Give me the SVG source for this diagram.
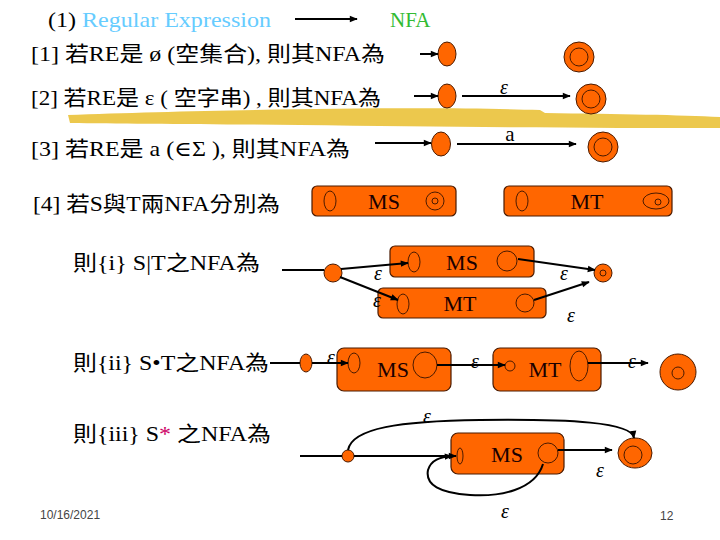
<svg xmlns="http://www.w3.org/2000/svg" width="720" height="540" viewBox="0 0 720 540">
<defs>
<marker id="ah" viewBox="0 0 10 10" refX="9" refY="5" markerWidth="9" markerHeight="8" markerUnits="userSpaceOnUse" orient="auto"><path d="M0,1 L10,5 L0,9 z" fill="#000"/></marker>
</defs>
<style>
.t{font-family:'Times New Roman','Liberation Serif',Times,'DejaVu Serif',serif,'Noto Sans CJK TC';font-size:21px;fill:#000}
.st{fill:#FF6600;stroke:#4a1a00;stroke-width:1}
.in{fill:none;stroke:#4a1a00;stroke-width:1}
.box{fill:#FF6600;stroke:#4a1a00;stroke-width:1.2}
.bt{font-family:'Times New Roman','Liberation Serif',Times,serif;font-size:22px;fill:#1a0000;text-anchor:middle}
.e{font-family:'Times New Roman','Liberation Serif',Times,serif;font-style:italic;font-size:20px;text-anchor:middle;fill:#000}
.c{fill:none;stroke:#000;stroke-width:2}
.a{marker-end:url(#ah)}
.f{font-family:'Liberation Sans',Arial,sans-serif;font-size:12px;fill:#444}
</style>
<rect width="720" height="540" fill="#fff"/>
<path d="M68,115 C200,110 420,106 540,110 L545,113 C620,114 680,115 720,117 L720,128 C600,128 450,127 300,125 C200,124 120,124 70,123 Z" fill="#E9BE2E" opacity="0.85"/>

<g id="texts">
<text x="48" y="27" class="t" textLength="223" lengthAdjust="spacingAndGlyphs">(1) <tspan fill="#66CCFF">Regular Expression</tspan></text>
<text x="390" y="27" class="t" fill="#33BB33" style="fill:#33BB33">NFA</text>
<text x="31" y="61" class="t" textLength="354" lengthAdjust="spacingAndGlyphs">[1] 若RE是 ø (空集合), 則其NFA為</text>
<text x="31" y="105" class="t" textLength="350" lengthAdjust="spacingAndGlyphs">[2] 若RE是 ε ( 空字串) , 則其NFA為</text>
<text x="31" y="156" class="t" textLength="319" lengthAdjust="spacingAndGlyphs">[3] 若RE是 a (∈Σ ), 則其NFA為</text>
<text x="33" y="211" class="t" textLength="247" lengthAdjust="spacingAndGlyphs">[4] 若S與T兩NFA分別為</text>
<text x="73" y="270" class="t" textLength="187" lengthAdjust="spacingAndGlyphs">則{i} S|T之NFA為</text>
<text x="73" y="370" class="t" textLength="196" lengthAdjust="spacingAndGlyphs">則{ii} S•T之NFA為</text>
<text x="73" y="441" class="t" textLength="198" lengthAdjust="spacingAndGlyphs">則{iii} S<tspan fill="#CC0066" style="fill:#CC0066">*</tspan> 之NFA為</text>
<text x="40" y="519" class="f">10/16/2021</text>
<text x="660" y="520" class="f">12</text>
</g>

<g id="row1">
<ellipse cx="447" cy="54" rx="9" ry="12" class="st"/>
<circle cx="579" cy="57" r="15" class="st"/><circle cx="579" cy="57" r="9" class="in"/>
</g>
<g id="row2">
<ellipse cx="447" cy="96" rx="9" ry="12" class="st"/>
<circle cx="591" cy="99" r="15" class="st"/><circle cx="591" cy="99" r="9" class="in"/>
</g>
<g id="row3">
<ellipse cx="441" cy="144" rx="9.5" ry="12" class="st"/>
<circle cx="603" cy="147" r="15" class="st"/><circle cx="603" cy="147" r="9" class="in"/>
</g>

<g id="MS4">
<rect x="312" y="186" width="144" height="30" rx="5" class="box"/>
<ellipse cx="330" cy="201" rx="6" ry="10" class="in"/>
<text x="384" y="209" class="bt">MS</text>
<circle cx="435" cy="201" r="9" class="in"/><circle cx="435" cy="201" r="3" class="in"/>
</g>
<g id="MT4">
<rect x="504" y="186" width="168" height="30" rx="5" class="box"/>
<ellipse cx="522" cy="201" rx="6" ry="10" class="in"/>
<text x="587" y="209" class="bt">MT</text>
<ellipse cx="656" cy="201" rx="13" ry="8" class="in"/><circle cx="658" cy="202" r="3" class="in"/>
</g>

<g id="union">
<circle cx="333" cy="273" r="9" class="st"/>
<rect x="390" y="246" width="144" height="31" rx="5" class="box"/>
<ellipse cx="414" cy="262" rx="6" ry="10" class="in"/>
<text x="462" y="270" class="bt">MS</text>
<circle cx="507" cy="261" r="10" class="in"/>
<rect x="378" y="288" width="168" height="30" rx="5" class="box"/>
<ellipse cx="403" cy="304" rx="6" ry="10" class="in"/>
<text x="460" y="311" class="bt">MT</text>
<circle cx="525" cy="303" r="9" class="in"/>
<circle cx="603" cy="273" r="9" class="st"/><circle cx="603" cy="273" r="3" class="in"/>
</g>

<g id="concat">
<ellipse cx="306" cy="363" rx="6" ry="9" class="st"/>
<rect x="337" y="348" width="114" height="43" rx="7" class="box"/>
<ellipse cx="354" cy="363" rx="6" ry="10" class="in"/>
<text x="393" y="377" class="bt">MS</text>
<ellipse cx="425" cy="365" rx="12" ry="13" class="in"/>
<rect x="493" y="348" width="108" height="43" rx="7" class="box"/>
<circle cx="510" cy="366" r="5" class="in"/>
<text x="545" y="377" class="bt">MT</text>
<ellipse cx="579" cy="366" rx="9" ry="15" class="in"/>
<circle cx="678" cy="372" r="18" class="st"/><circle cx="678" cy="373" r="6" class="in"/>
</g>

<g id="star">
<circle cx="348" cy="456" r="6" class="st"/>
<rect x="451" y="433" width="113" height="41" rx="7" class="box"/>
<ellipse cx="460" cy="456" rx="3" ry="8" class="in"/>
<text x="507" y="462" class="bt">MS</text>
<circle cx="548" cy="453" r="10" class="in"/>
<ellipse cx="635" cy="453" rx="17" ry="15" class="st"/><circle cx="633" cy="455" r="9" class="in"/>
</g>

<g id="connectors">
<line x1="295" y1="19" x2="357" y2="19" class="c a"/>
<line x1="420" y1="54" x2="438" y2="54" class="c a"/>
<line x1="414" y1="96" x2="438" y2="96" class="c a"/>
<line x1="462" y1="96" x2="570" y2="96" class="c a"/>
<line x1="375" y1="143" x2="431" y2="143" class="c a"/>
<line x1="457" y1="144" x2="576" y2="144" class="c a"/>

<line x1="282" y1="270" x2="324" y2="270" class="c"/>
<line x1="341" y1="269" x2="408" y2="263" class="c a"/>
<line x1="340" y1="277" x2="398" y2="300" class="c a"/>
<line x1="518" y1="259" x2="595" y2="270" class="c a"/>
<line x1="534" y1="300" x2="589" y2="282" class="c a"/>

<line x1="270" y1="363" x2="300" y2="363" class="c"/>
<line x1="312" y1="363" x2="348" y2="363" class="c a"/>
<line x1="437" y1="365" x2="505" y2="365" class="c a"/>
<line x1="588" y1="363" x2="648" y2="363" class="c a"/>

<line x1="300" y1="456" x2="342" y2="456" class="c"/>
<line x1="354" y1="456" x2="456" y2="456" class="c a"/>
<line x1="558" y1="450" x2="612" y2="450" class="c a"/>
<path d="M348,450 C352,428 400,421 480,420 C570,419 632,422 634,438" class="c a"/>
<path d="M543,464 C535,490 500,497 470,495 C440,493 425,485 428,470 C431,460 440,457 452,456" class="c a"/>
</g>

<g id="labels">
<text x="504" y="94" class="e">ε</text>
<text x="510" y="141" class="t" style="text-anchor:middle">a</text>
<text x="378" y="280" class="e">ε</text>
<text x="377" y="307" class="e">ε</text>
<text x="564" y="280" class="e">ε</text>
<text x="571" y="322" class="e">ε</text>
<text x="331" y="364" class="e">ε</text>
<text x="475" y="368" class="e">ε</text>
<text x="632" y="368" class="e">ε</text>
<text x="427" y="423" class="e">ε</text>
<text x="600" y="477" class="e">ε</text>
<text x="505" y="518" class="e">ε</text>
</g>
</svg>
